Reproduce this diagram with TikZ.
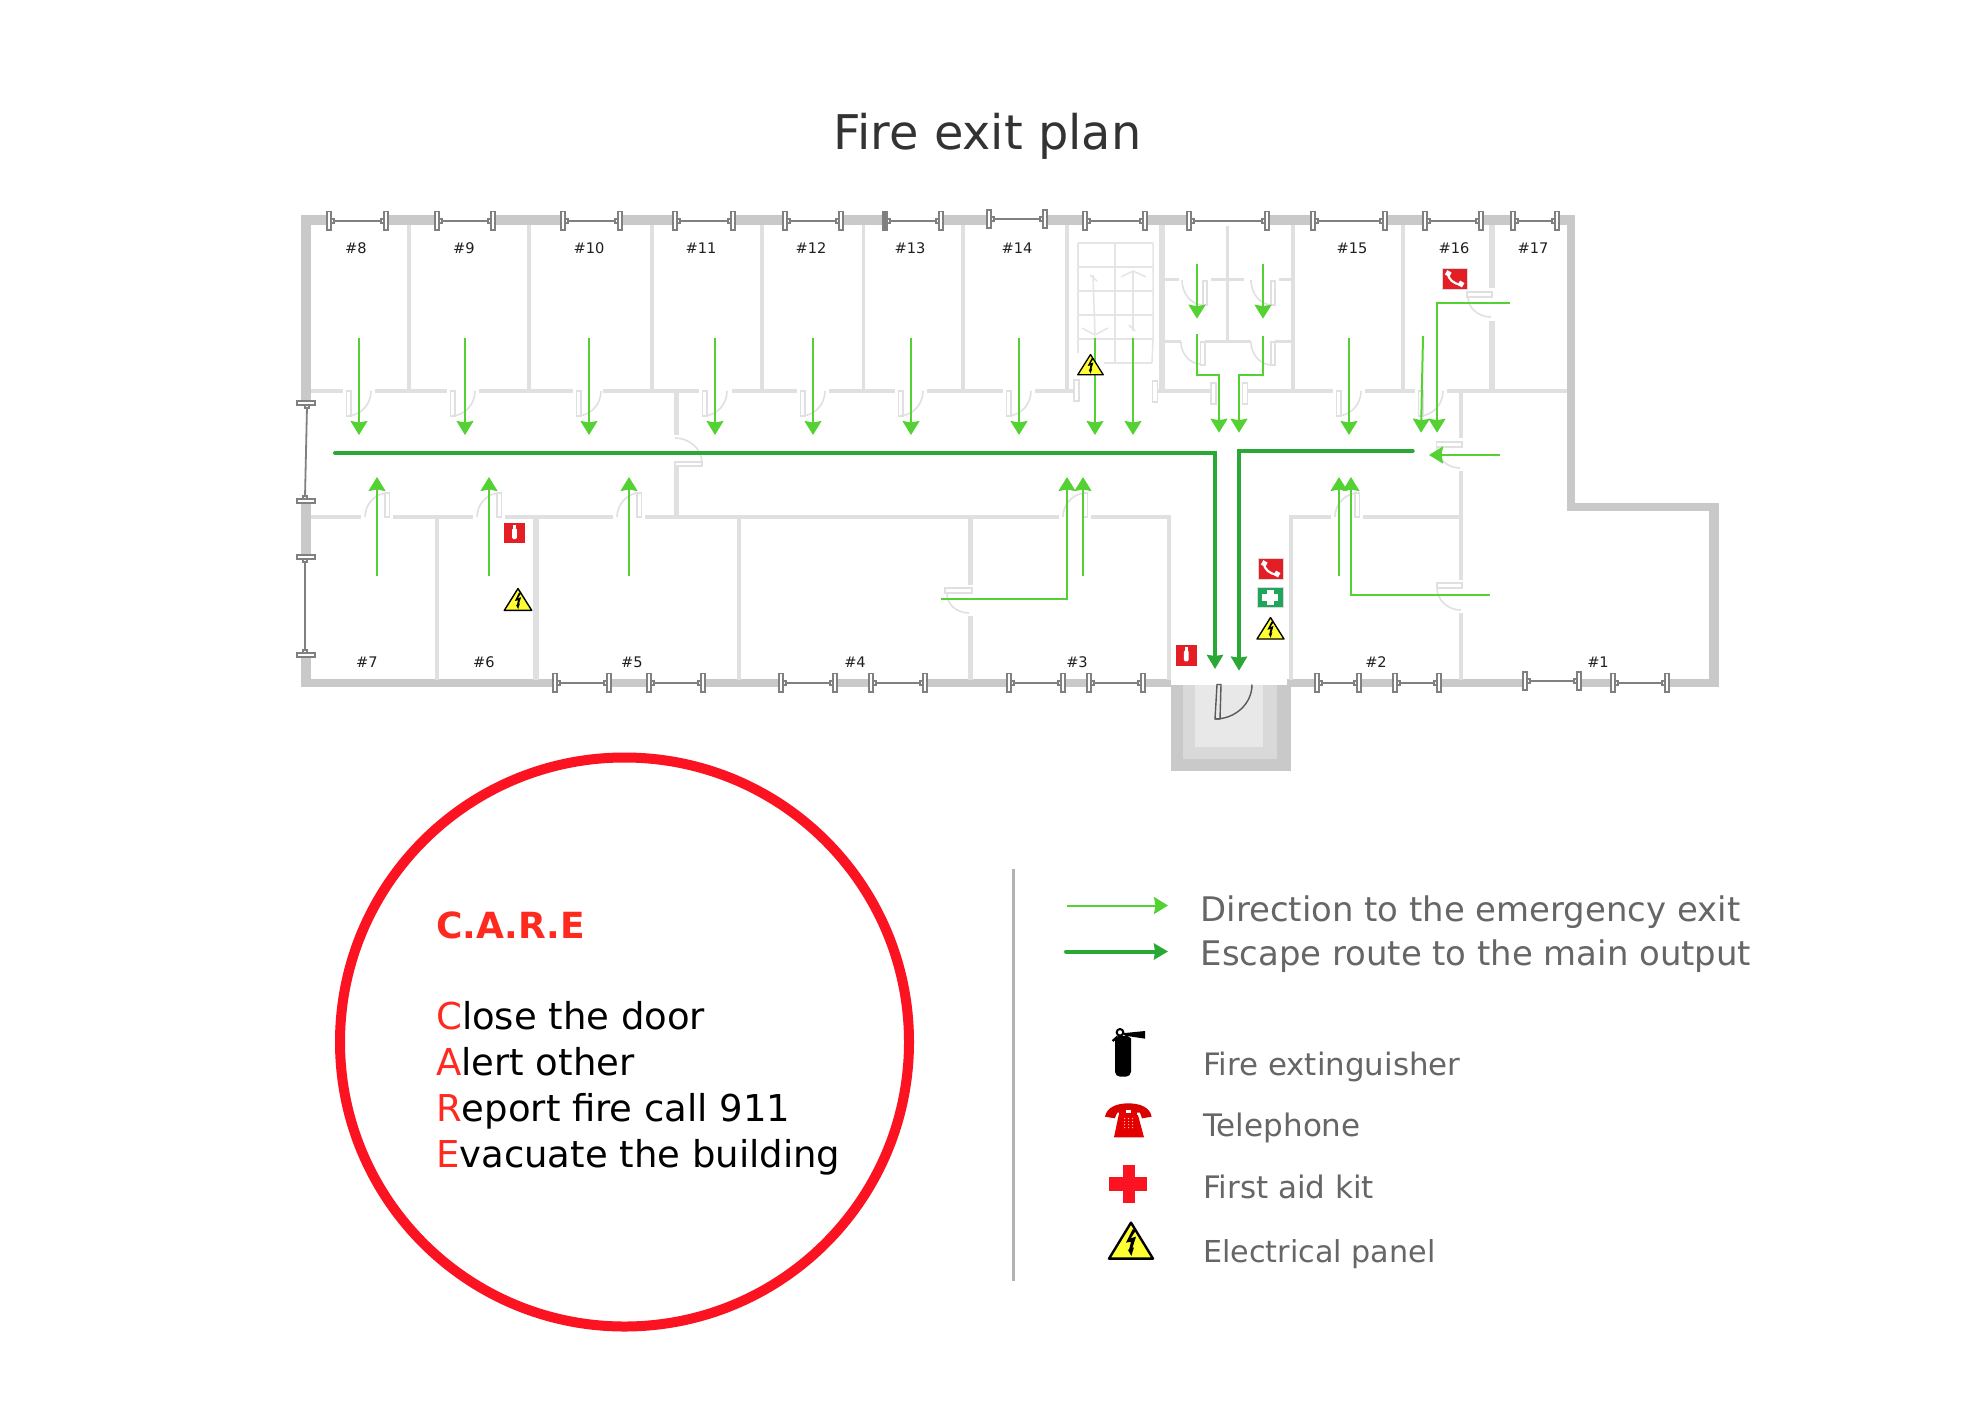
\documentclass[tikz,border=0pt]{standalone}
\usepackage{fontspec}
\setmainfont{DejaVu Sans}
\usetikzlibrary{arrows.meta,calc}
\definecolor{wallout}{HTML}{C9C9C9}
\definecolor{wallin}{HTML}{E0E0E0}
\definecolor{wing}{HTML}{808080}
\definecolor{lgreen}{HTML}{55D233}
\definecolor{dgreen}{HTML}{2AA836}
\definecolor{signred}{HTML}{E31E24}
\definecolor{signgreen}{HTML}{1EA65A}
\definecolor{careRed}{HTML}{FF2A1F}
\definecolor{ringred}{HTML}{FB1321}
\definecolor{warny}{HTML}{FFFF33}
\definecolor{legendgrey}{HTML}{666666}
\tikzset{
  outerwall/.style={fill=wallout,draw=none},
  innerwall/.style={draw=wallin,line width=3.6pt},
  thinwall/.style={draw=wallin,line width=2.6pt},
  leaf/.style={draw=wallin,line width=1.6pt,fill=white},
  swing/.style={draw=wallin,line width=1.6pt},
  stairline/.style={draw=wallin!85!white,line width=1.5pt},
  winline/.style={draw=wing,line width=1.8pt},
  winbox/.style={draw=wing,line width=1.8pt,fill=white},
  exitarrow/.style={draw=lgreen,line width=2pt,-{Stealth[length=14pt,width=17pt,inset=1.5pt,fill=lgreen]}},
  routearrow/.style={draw=dgreen,line width=4pt,line cap=round,-{Stealth[length=14pt,width=16pt,inset=1pt,fill=dgreen]}},
  roomlabel/.style={text=black!88,font=\fontsize{14.6}{16}\selectfont,anchor=base,inner sep=0pt},
  legendtext/.style={text=legendgrey,anchor=base west,inner sep=0pt},
  caretext/.style={text=black,anchor=base west,inner sep=0pt,font=\fontsize{37}{44}\selectfont},
}
\newcommand\winh[3]{%
  \fill[white] (#1,#3-5.5) rectangle (#2,#3+5.5);
  \draw[winline] (#1+8,#3) -- (#2-8,#3);
  \draw[winbox] (#1+5,#3-2) rectangle (#1+8,#3+2);
  \draw[winbox] (#2-8,#3-2) rectangle (#2-5,#3+2);
  \draw[winbox] (#1+.9,#3-9.3) rectangle (#1+4.7,#3+9.3);
  \draw[winbox] (#2-4.7,#3-9.3) rectangle (#2-.9,#3+9.3);
}
\newcommand\winv[4]{%
  \fill[white] (301,#1) rectangle (311,#2);
  \draw[winline] (#3,#1+6) -- (#4,#2-6);
  \draw[winbox] (#3-2,#1+4) rectangle (#3+2,#1+7);
  \draw[winbox] (#4-2,#2-7) rectangle (#4+2,#2-4);
  \draw[winbox] (297,#1) rectangle (315,#1+4);
  \draw[winbox] (297,#2-4) rectangle (315,#2);
}
\newcommand\swingarc[6]{\draw[swing] (#1,#2) .. controls ($(#1,#2)!.55!(#3,#4)$) and ($(#5,#6)!.55!(#3,#4)$) .. (#5,#6);}
\newcommand\dtop[1]{%
  \draw[leaf] (#1+3.5,391) rectangle (#1+8,416);
  \swingarc{#1+28}{391}{#1+28}{416}{#1+4}{416}}
\newcommand\dbot[1]{%
  \draw[leaf] (#1-8,492.7) rectangle (#1-3.5,517);
  \swingarc{#1-28}{517}{#1-28}{492.7}{#1-4}{492.7}}
\newcommand\warnsign[3]{%
  \begin{scope}[shift={(#1,#2)},scale=#3]
    \draw[fill=warny,draw=black,line width=.05*#3 pt,line join=round] (0,0.02) -- (.49,.8) -- (-.49,.8) -- cycle;
    \fill[black] (.036,.168) -- (-.11,.46) -- (0,.438) -- (-.044,.62) -- (-.073,.606) -- (.007,.75) -- (.066,.56) -- (.029,.584) -- (.11,.328) -- (-.007,.365) -- (.124,.168) -- cycle;
  \end{scope}}
\newcommand\firesign[4]{%
  \begin{scope}[shift={(#1,#2)}]
    \fill[signred] (0,0) rectangle (#3,#4);
    \fill[white,rounded corners=1.5pt] (#3*.39,#4*.26) rectangle (#3*.62,#4*.8);
    \fill[white] (#3*.43,#4*.12) rectangle (#3*.6,#4*.28);
  \end{scope}}
\newcommand\phonesign[2]{%
  \begin{scope}[shift={(#1,#2)}]
    \draw[fill=signred,draw=black!15,line width=1pt] (0,0) rectangle (25,21);
    \draw[white,line width=2.2pt] (5.5,5) .. controls (6.5,11) and (11,16) .. (19,16.5);
    \fill[white,rotate around={-30:(6,6)}] (3.5,3) rectangle (8.5,8);
    \fill[white,rotate around={-30:(19,16)}] (16.5,13.5) rectangle (21.5,18.5);
  \end{scope}}
\newcommand\aidsign[2]{%
  \begin{scope}[shift={(#1,#2)}]
    \draw[fill=signgreen,draw=black!15,line width=.8pt] (0,0) rectangle (26,20.5);
    \fill[white] (9.5,3) rectangle (16.5,17.5);
    \fill[white] (5,7) rectangle (21,14);
  \end{scope}}
\begin{document}
\begin{tikzpicture}[x=1pt,y=-1pt]
\useasboundingbox (0,0) rectangle (1980,1400);
\fill[white] (0,0) rectangle (1980,1400);

% title
\node[anchor=base,inner sep=0pt,text=black!80,font=\fontsize{47.8}{50}\selectfont] (title) at (987.5,149) {Fire exit plan};

% entrance vestibule
\fill[wallout] (1171,685) rectangle (1291,771);
\fill[black!15] (1183,685) rectangle (1277,759);
\fill[black!9] (1195,685) rectangle (1263,747);
\draw[draw=black!65,line width=1.4pt,fill=black!9] (1215,719) -- (1217,684.5) -- (1221,684.5) -- (1220,719) -- cycle;
\draw[draw=black!65,line width=1.4pt] (1215,719) .. controls (1235,719) and (1252,704) .. (1252,684.5);

% outer walls
\fill[outerwall] (301,215) rectangle (1575,225);
\fill[outerwall] (301,215) rectangle (311,687);
\fill[outerwall] (301,679) rectangle (1171,687);
\fill[outerwall] (1287,679) rectangle (1719,687);
\fill[outerwall] (1709,503) rectangle (1719,687);
\fill[outerwall] (1567,503) rectangle (1719,511);
\fill[outerwall] (1567,215) rectangle (1575,511);

% upper room dividers
\foreach \x in {409,529,652,762,863.5,963,1067,1293,1403}{\draw[innerwall] (\x,225) -- (\x,391);}
\draw[innerwall,line width=5.5pt] (1492,225) -- (1492,288);
\draw[innerwall,line width=5.5pt] (1492,321) -- (1492,391);
\draw[innerwall,line width=5.5pt] (1162,225) -- (1162,391);

% upper corridor wall
\foreach \a/\b in {311/343,375/447,479/573,603/699,732/797,829/895,927/1003,1035/1074,1158/1211,1248/1333,1365/1415,1447/1567}{\draw[innerwall] (\a,391) -- (\b,391);}
\foreach \x in {343,447,573,699,797,895,1003,1333,1415}{\dtop{\x}}

% jambs
\draw[leaf] (1074,380) rectangle (1079,401);
\draw[leaf] (1152.5,381) rectangle (1157.5,402);
\draw[leaf] (1211,383) rectangle (1216,404);
\draw[leaf] (1242.5,383) rectangle (1247.5,404);

% lower corridor wall
\foreach \a/\b in {311/361,393/473,505/613,645/1059,1091/1169}{\draw[innerwall] (\a,517) -- (\b,517);}
\foreach \a/\b in {1291/1331,1363/1461}{\draw[innerwall] (\a,517) -- (\b,517);}
\foreach \x in {393,505,645,1091,1363}{\dbot{\x}}

% lower dividers
\draw[innerwall] (437,517) -- (437,680);
\draw[innerwall,line width=5.5pt] (536,517) -- (536,680);
\draw[innerwall] (739,517) -- (739,680);
\draw[innerwall,line width=5pt] (970.5,517) -- (970.5,585);
\draw[innerwall,line width=5pt] (970.5,616) -- (970.5,680);
\draw[innerwall] (1169,515) -- (1169,680);
\draw[innerwall] (1291,515) -- (1291,680);
\draw[innerwall,line width=5pt] (676,391) -- (676,435);
\draw[innerwall,line width=5pt] (676,466) -- (676,517);
\draw[innerwall] (1461,391) -- (1461,438);
\draw[innerwall] (1461,471) -- (1461,580);
\draw[innerwall] (1461,613) -- (1461,680);

% side doors
\draw[leaf] (675,461.7) rectangle (702,465.7);
\swingarc{675}{438}{702}{438}{702}{463}
\draw[leaf] (1436.5,442) rectangle (1462,447);
\swingarc{1437}{447}{1437}{468}{1460}{468}
\draw[leaf] (1437,583) rectangle (1462,588);
\swingarc{1437}{588}{1437}{610}{1461}{610}
\draw[leaf] (1467,292) rectangle (1492,297);
\swingarc{1468}{297}{1468}{317}{1491}{317}
\draw[leaf] (945,588) rectangle (972,593);
\swingarc{947}{594}{947}{613}{969}{613}

% stairs
\foreach \y in {243,267,291,315,339}{\draw[stairline] (1078,\y) -- (1153,\y);}
\draw[stairline] (1104,363) -- (1152,363);
\draw[stairline] (1078,243) -- (1078,353);
\draw[stairline] (1115,243) -- (1115,363);
\draw[stairline] (1153,243) -- (1153,340) -- (1152,363);
\draw[stairline] (1093,275) -- (1095,335);
\draw[stairline] (1082,328) -- (1095,335) -- (1108,328);
\draw[stairline] (1090,275) -- (1097,281);
\draw[stairline] (1133,271) -- (1133,331);
\draw[stairline] (1121,277) -- (1133,271) -- (1146,277);
\draw[stairline] (1129,325) -- (1135,331);

% toilets
\draw[thinwall] (1227.7,225) -- (1227.7,341.7);
\foreach \a/\b in {1165/1179,1211/1244,1279/1291}{\draw[thinwall] (\a,279.7) -- (\b,279.7);}
\foreach \a/\b in {1165/1181,1205/1251,1275/1291}{\draw[thinwall] (\a,341.7) -- (\b,341.7);}
\draw[leaf] (1203,280.7) rectangle (1207,305);
\swingarc{1182}{280}{1182}{305}{1203}{305}
\draw[leaf] (1271,280.7) rectangle (1275,305);
\swingarc{1251}{280}{1251}{305}{1272}{305}
\draw[leaf] (1200.5,341.7) rectangle (1205,365);
\swingarc{1181}{342}{1181}{364}{1201}{364}
\draw[leaf] (1271,341.7) rectangle (1275,365);
\swingarc{1251}{342}{1251}{365}{1272}{365}

% windows
\foreach \a/\b in {326/389,434/496,560/623,672/736,782/844,882/944,1082/1148,1186/1270,1310/1388,1422/1484,1510/1560}{\winh{\a}{\b}{220.7}}
\winh{986}{1048}{219}
\fill[wing] (882,211) rectangle (885.6,230);
\foreach \a/\b in {552/612,646/706,778/838,868/928,1006/1066,1086/1146,1314/1362,1392/1442,1610/1670}{\winh{\a}{\b}{682.7}}
\winh{1522}{1582}{681}
\winv{400.7}{503}{307}{305}
\winv{555}{657}{305}{305}

% room labels
\node[roomlabel] (r8) at (356,253) {\#8};
\node[roomlabel] (r9) at (464,253) {\#9};
\node[roomlabel] (r10) at (589,253) {\#10};
\node[roomlabel] (r11) at (701,253) {\#11};
\node[roomlabel] (r12) at (811,253) {\#12};
\node[roomlabel] (r13) at (910,253) {\#13};
\node[roomlabel] (r14) at (1017,253) {\#14};
\node[roomlabel] (r15) at (1352,253) {\#15};
\node[roomlabel] (r16) at (1454,253) {\#16};
\node[roomlabel] (r17) at (1533,253) {\#17};
\node[roomlabel] (r7) at (367,667) {\#7};
\node[roomlabel] (r6) at (484,667) {\#6};
\node[roomlabel] (r5) at (632,667) {\#5};
\node[roomlabel] (r4) at (855,667) {\#4};
\node[roomlabel] (r3) at (1077,667) {\#3};
\node[roomlabel] (r2) at (1376,667) {\#2};
\node[roomlabel] (r1) at (1598,667) {\#1};

% direction arrows
\foreach \x in {359,465,589,715,813,911,1019,1095,1133,1349}{\draw[exitarrow] (\x,338) -- (\x,435);}
\draw[exitarrow] (1197,264) -- (1197,318.7);
\draw[exitarrow] (1263,264) -- (1263,318.7);
\draw[exitarrow] (1197,334) -- (1197,374.7) -- (1219,374.7) -- (1219,432.7);
\draw[exitarrow] (1263,336) -- (1263,374.7) -- (1239,374.7) -- (1239,432.7);
\draw[exitarrow] (1423,336) -- (1421,432.7);
\draw[exitarrow] (1510,303) -- (1437,303) -- (1437,432.7);
\draw[exitarrow] (1500,455) -- (1429,455);
\foreach \x in {377,489,629,1083,1339}{\draw[exitarrow] (\x,575.7) -- (\x,477);}
\draw[exitarrow] (941,598.7) -- (1067,598.7) -- (1067,477);
\draw[exitarrow] (1490,595) -- (1351,595) -- (1351,477);

% escape routes
\draw[routearrow] (335,453) -- (1215,453) -- (1215,669);
\draw[routearrow] (1412.7,451) -- (1239,451) -- (1239,670.7);

% signs
\firesign{503.7}{522.7}{21.3}{20.5}
\firesign{1175.5}{645}{21.3}{20.5}
\warnsign{518}{588}{28}
\warnsign{1090.5}{354}{26}
\warnsign{1270.5}{617}{27.5}
\phonesign{1258}{558}
\phonesign{1442}{268}
\aidsign{1257}{587}

% care circle
\draw[ringred,line width=10pt] (624.5,1042) circle (284.5);
\node[anchor=base west,inner sep=0pt,text=careRed,font=\fontsize{36}{44}\selectfont\bfseries] (care) at (436,938) {C.A.R.E};
\node[caretext] (c1) at (436,1029.2) {\textcolor{careRed}{C}lose the door};
\node[caretext] (c2) at (436,1075.2) {\textcolor{careRed}{A}lert other};
\node[caretext] (c3) at (436,1121.2) {\textcolor{careRed}{R}eport fire call 911};
\node[caretext] (c4) at (436,1167) {\textcolor{careRed}{E}vacuate the building};

% legend
\draw[draw=black!30,line width=3pt] (1013,869) -- (1013,1281);
\coordinate (la1) at (1067,905.5);
\coordinate (la2) at (1168,905.5);
\coordinate (lb1) at (1066,951.5);
\coordinate (lb2) at (1168,951.5);
\draw[exitarrow] (la1) -- (la2);
\draw[routearrow] (lb1) -- (lb2);
\node[legendtext,font=\fontsize{33.9}{40}\selectfont] (l1) at (1200.5,921) {Direction to the emergency exit};
\node[legendtext,font=\fontsize{33.9}{40}\selectfont] (l2) at (1200.5,965) {Escape route to the main output};
\node[legendtext,font=\fontsize{30.9}{36}\selectfont] (l3) at (1203,1075) {Fire extinguisher};
\node[legendtext,font=\fontsize{31}{36}\selectfont] (l4) at (1203,1136) {Telephone};
\node[legendtext,font=\fontsize{31}{36}\selectfont] (l5) at (1203,1198) {First aid kit};
\node[legendtext,font=\fontsize{30.2}{36}\selectfont] (l6) at (1203,1262) {Electrical panel};

% legend icons, in zoomed units
\begin{scope}[shift={(1060,1020)},x=.3333pt,y=-.3333pt]
  \fill[black,rounded corners=5pt] (165,170) -- (165,70) .. controls (165,55) and (175,48) .. (189,48) .. controls (203,48) and (213,55) .. (213,70) -- (213,170) -- cycle;
  \fill[black] (185,40) -- (255,33) -- (255,56) -- (195,47) -- cycle;
  \draw[black,line width=2pt] (180,37) circle (10);
  \draw[black,line width=2.2pt] (158,63) -- (172,50);
  % telephone
  \fill[red!85!black] (135,290) .. controls (140,262) and (170,250) .. (205,250) .. controls (240,250) and (270,262) .. (275,290) -- (246,295) -- (240,278) -- (172,278) -- (164,295) -- cycle;
  \fill[red!90!black] (178,274) rectangle (232,296);
  \fill[red!90!black] (176,285) -- (234,285) -- (252,352) -- (162,352) -- cycle;
  \fill[white] (198,270) rectangle (214,278);
  \foreach \i in {0,1,2}{\foreach \j in {0,1,2,3}{\fill[white!80!red] (194+12*\i,296+9*\j) circle (1.8);}}
  % first aid cross
  \fill[ringred] (189,435) rectangle (225,549);
  \fill[ringred] (147,471) rectangle (261,513);
  % panel
  \draw[fill=warny,draw=black,line width=2.4pt,line join=round] (213,608) -- (279,716) -- (147,716) -- cycle;
  \fill[black] (218,628) -- (198,668) -- (213,665) -- (207,690) -- (203,688) -- (214,708) -- (222,682) -- (217,685) -- (228,650) -- (212,655) -- (230,628) -- cycle;
\end{scope}
\end{tikzpicture}
\end{document}
